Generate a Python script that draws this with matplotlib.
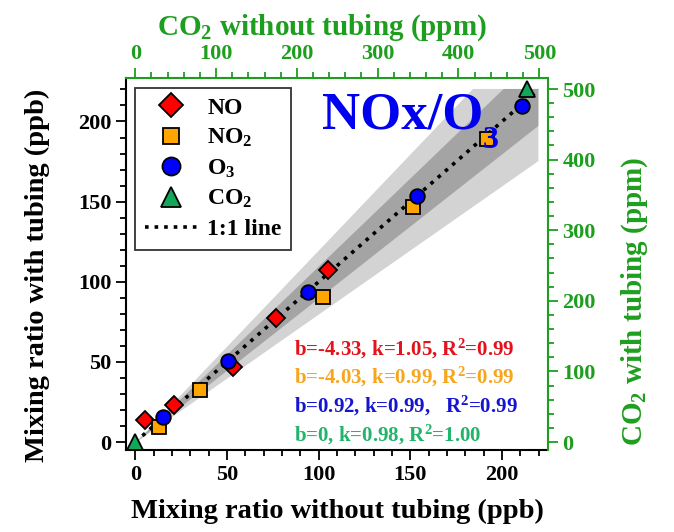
import numpy as np
import matplotlib
matplotlib.use("Agg")
import matplotlib.pyplot as plt
from matplotlib.lines import Line2D
from matplotlib.ticker import MultipleLocator

plt.rcParams['font.family'] = 'Liberation Serif'
plt.rcParams['font.weight'] = 'bold'
plt.rcParams['axes.labelweight'] = 'bold'
plt.rcParams['mathtext.fontset'] = 'custom'
plt.rcParams['mathtext.rm'] = 'Liberation Serif:bold'
plt.rcParams['mathtext.bf'] = 'Liberation Serif:bold'
plt.rcParams['mathtext.it'] = 'Liberation Serif:bold'
plt.rcParams['mathtext.default'] = 'bf'

# measurements (ppb), without vs with tubing
no_x = [5.4, 20.9, 53.5, 76.8, 105.3]
no_y = [13.6, 23.0, 47.0, 77.3, 107.6]
no2_x = [13.2, 35.4, 102.2, 151.6, 191.9]
no2_y = [9.4, 32.4, 90.2, 146.9, 189.0]
o3_x = [15.1, 50.8, 94.4, 153.6, 210.6]
o3_y = [15.7, 50.6, 93.7, 153.2, 209.9]
# CO2 (ppm)
co2_x = [0, 485]
co2_y = [0, 500]

fits = [
    ("b=-4.33, k=1.05, R$^2$=0.99", '#e3121b'),
    ("b=-4.03, k=0.99, R$^2$=0.99", '#f7a51c'),
    ("b=0.92, k=0.99,   R$^2$=0.99", '#1414d2'),
    ("b=0, k=0.98, R$^2$=1.00", '#23b46c'),
]

GREEN = '#1e9e1e'
PPM_PER_PPB = 2.27
XLIM = (-5, 225)
YLIM = (-5, 227)

fig = plt.figure(figsize=(6.74, 5.32), dpi=100)
ax = fig.add_axes([0.187, 0.154, 0.626, 0.699])

# +-20% and +-10% envelopes around 1:1
xb = np.linspace(0, 219.5, 600)
cap = 220.6
ax.fill_between(xb, np.minimum(0.8 * xb, cap), np.minimum(1.2 * xb, cap),
                color='#d3d3d3', lw=0, zorder=1)
ax.fill_between(xb, np.minimum(0.9 * xb, cap), np.minimum(1.1 * xb, cap),
                color='#a4a4a4', lw=0, zorder=2)
ax.plot([0, 220], [0, 220], ls=':', color='black', lw=2.6, zorder=3)

mk = dict(ls='none', mec='black', mew=1.3, zorder=5)
ax.plot(no_x, no_y, marker='D', ms=9.5, mfc='#ff0000', **mk)
ax.plot(no2_x, no2_y, marker='s', ms=10, mfc='#ffa500', **mk)
ax.plot(o3_x, o3_y, marker='o', ms=10.5, mfc='#0000ff', **mk)

ax.set_xlim(*XLIM)
ax.set_ylim(*YLIM)
ax.xaxis.set_major_locator(MultipleLocator(50))
ax.xaxis.set_minor_locator(MultipleLocator(10))
ax.yaxis.set_major_locator(MultipleLocator(50))
ax.yaxis.set_minor_locator(MultipleLocator(10))
ax.tick_params(which='both', direction='out', width=1.3, labelsize=16)
ax.tick_params(which='major', length=7)
ax.tick_params(which='minor', length=4)
ax.spines['top'].set_visible(False)
ax.spines['right'].set_visible(False)
for s in ('left', 'bottom'):
    ax.spines[s].set_linewidth(1.5)
ax.set_xlabel('Mixing ratio without tubing (ppb)', fontsize=20.5)
ax.set_ylabel('Mixing ratio with tubing (ppb)', fontsize=20.5)
ax.xaxis.set_label_coords(0.5, -0.13)
ax.yaxis.set_label_coords(-0.18, 0.47)

# CO2 axes on top/right
ax2 = fig.add_axes(ax.get_position())
ax2.patch.set_visible(False)
ax2.set_xlim(XLIM[0] * PPM_PER_PPB, XLIM[1] * PPM_PER_PPB)
ax2.set_ylim(YLIM[0] * PPM_PER_PPB, YLIM[1] * PPM_PER_PPB)
ax2.xaxis.tick_top()
ax2.yaxis.tick_right()
ax2.xaxis.set_label_position('top')
ax2.yaxis.set_label_position('right')
for s in ('left', 'bottom'):
    ax2.spines[s].set_visible(False)
for s in ('top', 'right'):
    ax2.spines[s].set_color(GREEN)
    ax2.spines[s].set_linewidth(1.5)
ax2.xaxis.set_major_locator(MultipleLocator(100))
ax2.xaxis.set_minor_locator(MultipleLocator(20))
ax2.yaxis.set_major_locator(MultipleLocator(100))
ax2.yaxis.set_minor_locator(MultipleLocator(20))
ax2.tick_params(which='both', direction='out', width=1.3, labelsize=16,
                color=GREEN, labelcolor=GREEN)
ax2.tick_params(which='major', length=7)
ax2.tick_params(which='minor', length=4)
ax2.plot(co2_x, co2_y, marker='^', ms=12, mfc='#12a85a', clip_on=False, **mk)
ax2.set_xlabel('CO$_2$ without tubing (ppm)', fontsize=21, color=GREEN)
ax2.set_ylabel('CO$_2$ with tubing (ppm)', fontsize=21, color=GREEN)
ax2.xaxis.set_label_coords(0.464, 1.118)
ax2.yaxis.set_label_coords(1.17, 0.40)

handles = [
    Line2D([], [], marker='D', ms=12, mfc='#ff0000', mec='black', mew=1.3, ls='none'),
    Line2D([], [], marker='s', ms=12, mfc='#ffa500', mec='black', mew=1.3, ls='none'),
    Line2D([], [], marker='o', ms=13, mfc='#0000ff', mec='black', mew=1.3, ls='none'),
    Line2D([], [], marker='^', ms=14, mfc='#12a85a', mec='black', mew=1.3, ls='none'),
    Line2D([], [], ls=':', color='black', lw=2.6),
]
labels = ['NO', 'NO$_2$', 'O$_3$', 'CO$_2$', '1:1 line']
leg = ax2.legend(handles, labels, loc='upper left', fontsize=17, frameon=True,
                 fancybox=False, edgecolor='black', borderaxespad=0.4,
                 labelspacing=0.35, handlelength=2.2, handletextpad=0.45,
                 borderpad=0.4)
leg.get_frame().set_linewidth(1.3)

ax2.text(0.464, 0.866, 'NOx/O', transform=ax2.transAxes, fontsize=38,
         color='#0000f0', ha='left', va='baseline')
ax2.text(0.845, 0.812, '3', transform=ax2.transAxes, fontsize=23,
         color='#0000f0', ha='left', va='baseline')

for i, (txt, col) in enumerate(fits):
    ax2.text(0.397, 0.255 - i * 0.077, txt, transform=ax2.transAxes,
             fontsize=15, color=col, ha='left', va='baseline')

fig.savefig('out.png', dpi=100)
